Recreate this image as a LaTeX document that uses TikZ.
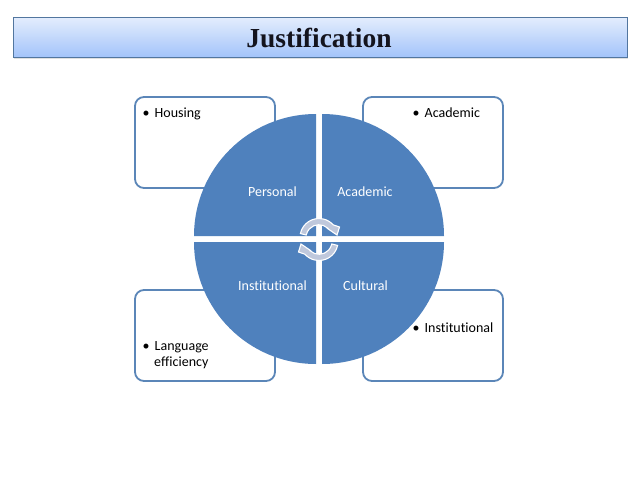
\documentclass[tikz,border=0pt]{standalone}
\usepackage{fontspec}
\setmainfont[Ligatures=NoCommon]{Carlito}
\newfontfamily\titlefont{Liberation Serif}
\definecolor{wedgeblue}{HTML}{4F81BD}
\definecolor{boxedge}{HTML}{5B86B8}
\definecolor{arrowfill}{HTML}{BFC8DC}
\definecolor{bandtop}{HTML}{E4EDFD}
\definecolor{bandbottom}{HTML}{A3C4FA}
\definecolor{bandedge}{HTML}{52769F}
\tikzset{
  infobox/.style={draw=boxedge,line width=1.8pt,fill=white,rounded corners=9pt},
  wedge/.style={fill=wedgeblue,draw=none},
  wedgelabel/.style={text=white,font=\fontsize{14}{17}\selectfont,inner sep=0pt},
  bullettext/.style={text=black,font=\fontsize{14}{16}\selectfont,inner sep=0pt,anchor=north west,align=left},
  cyclearrow/.style={fill=arrowfill,draw=white,line width=1.1pt,line join=miter},
}
\begin{document}
\begin{tikzpicture}[x=1pt,y=1pt]
\useasboundingbox (0,0) rectangle (638,-479);
\fill[white] (0,0) rectangle (638,-479);
% title band
\fill[black!12] (14,-19) rectangle (628,-59);
\fill[black!25] (14,-19) rectangle (628,-58);
\fill[top color=bandtop,bottom color=bandbottom] (13.5,-17) rectangle (627.5,-57);
\draw[draw=bandedge,line width=0.8pt] (13.5,-17) rectangle (627.5,-57);
\node[inner sep=0pt,text={rgb,255:red,20;green,20;blue,30}] (title) at (319,-37.5) {\titlefont\bfseries\fontsize{27.5}{30}\selectfont Justification};
% boxes
\draw[infobox] (135,-97) rectangle (275,-188);
\draw[infobox] (363,-97) rectangle (503,-188);
\draw[infobox] (135,-290) rectangle (275,-381);
\draw[infobox] (363,-290) rectangle (503,-381);
\node[bullettext] (tl) at (142.5,-107.5) {•\hspace{5pt}Housing};
\node[bullettext] (tr) at (412.5,-107.5) {•\hspace{5pt}Academic};
\node[bullettext] (bl) at (142.5,-341.5) {•\hspace{5pt}Language\\\hspace{11.5pt}efficiency};
\node[bullettext] (br) at (412.5,-322.5) {•\hspace{5pt}Institutional};
% wedges
\fill[wedge] (316,-236) -- (194,-236) arc (180:90:122) -- cycle;
\fill[wedge] (322,-236) -- (322,-114) arc (90:0:122) -- cycle;
\fill[wedge] (316,-242) -- (316,-364) arc (270:180:122) -- cycle;
\fill[wedge] (322,-242) -- (444,-242) arc (0:-90:122) -- cycle;
\node[wedgelabel] (personal) at (272.5,-192) {Personal};
\node[wedgelabel] (academic) at (365,-192) {Academic};
\node[wedgelabel] (institutional) at (272.5,-285.5) {Institutional};
\node[wedgelabel] (cultural) at (365.5,-285.5) {Cultural};
% cycle arrows
\draw[cyclearrow] (319,-237.5) ++(168:19) arc (168:42:19) --
  (339.5,-227) -- (337,-235) -- (327.5,-228.5) -- (327.8,-228.2) arc (47:168:13) -- cycle;
\draw[cyclearrow] (319,-241.5) ++(-12:19) arc (-12:-138:19) --
  (298.5,-252) -- (301,-244) -- (310.5,-250.5) -- (310.2,-250.8) arc (-133:-12:13) -- cycle;
\end{tikzpicture}
\end{document}
